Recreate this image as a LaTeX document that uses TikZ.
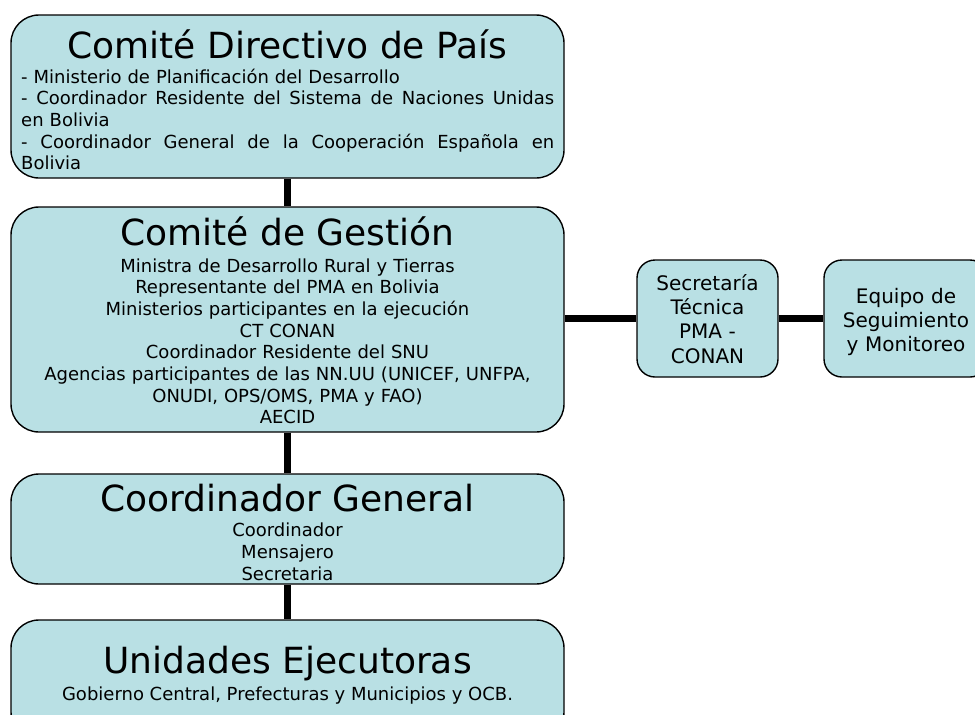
\documentclass[tikz,border=0pt]{standalone}
\usepackage{fontspec}
\setmainfont{DejaVu Sans}
\definecolor{boxfill}{RGB}{185,224,228}
\tikzset{
  bigbox/.style={draw=black, line width=1.4pt, fill=boxfill, rounded corners=28pt, inner sep=0pt, minimum width=553pt},
  smallbox/.style={draw=black, line width=1.4pt, fill=boxfill, rounded corners=18pt, inner sep=0pt},
  conn/.style={draw=black, line width=7pt},
  titletext/.style={inner sep=0pt, font=\fontsize{36}{43}\selectfont},
  bodytext/.style={inner sep=0pt, font=\fontsize{18}{21.7}\selectfont},
  sidetext/.style={inner sep=0pt, font=\fontsize{20}{24.4}\selectfont, align=center, text width=150pt},
}
\begin{document}
\begin{tikzpicture}[x=1pt,y=-1pt]
\useasboundingbox (0,0) rectangle (975,715);
% boxes
\node[bigbox, minimum height=163pt] (cdp) at (287.5,96.5) {};
\node[bigbox, minimum height=225pt] (cg) at (287.5,319.5) {};
\node[bigbox, minimum height=110pt] (coord) at (287.5,529) {};
\node[bigbox, minimum height=120pt] (ue) at (287.5,680) {};
\node[smallbox, minimum width=141pt, minimum height=117pt] (sec) at (707.5,318.5) {};
\node[smallbox, minimum width=164pt, minimum height=117pt] (eq) at (906,318.5) {};
% connectors
\draw[conn] (cdp.south) -- (cg.north);
\draw[conn] (cg.south) -- (coord.north);
\draw[conn] (coord.south) -- (ue.north);
\draw[conn] (cg.east |- sec.west) -- (sec.west);
\draw[conn] (sec.east) -- (eq.west);
% texts
\node[titletext, anchor=base] (cdpT) at (287.5,58) {Comité Directivo de País};
\node[bodytext, anchor=base west, text width=533pt, align=left] (cdpB) at (21,83) {%
- Ministerio de Planificación del Desarrollo\\
\makebox[533pt][l]{-\hfill Coordinador\hfill Residente\hfill del\hfill Sistema\hfill de\hfill Naciones\hfill Unidas}\\
en Bolivia\\
\makebox[533pt][l]{-\hfill Coordinador\hfill General\hfill de\hfill la\hfill Cooperación\hfill Española\hfill en}\\
Bolivia};
\node[titletext, anchor=base] (cgT) at (287.5,245) {Comité de Gestión};
\node[bodytext, anchor=base, text width=545pt, align=center] (cgB) at (287.5,272) {%
Ministra de Desarrollo Rural y Tierras\\
Representante del PMA en Bolivia\\
Ministerios participantes en la ejecución\\
CT CONAN\\
Coordinador Residente del SNU\\
Agencias participantes de las NN.UU (UNICEF, UNFPA,\\
ONUDI, OPS/OMS, PMA y FAO)\\
AECID};
\node[titletext, anchor=base] (coordT) at (287.5,511) {Coordinador General};
\node[bodytext, anchor=base, text width=545pt, align=center, font=\fontsize{18}{22}\selectfont] (coordB) at (287.5,536) {%
Coordinador\\
Mensajero\\
Secretaria};
\node[titletext, anchor=base] (ueT) at (287.5,673) {Unidades Ejecutoras};
\node[bodytext, anchor=base] (ueB) at (287.5,700) {Gobierno Central, Prefecturas y Municipios y OCB.};
\node[sidetext, anchor=base] (secT) at (707.5,290) {Secretaría\\ Técnica\\ PMA -\\ CONAN};
\node[sidetext, anchor=base] (eqT) at (906,303) {Equipo de\\ Seguimiento\\ y Monitoreo};
\end{tikzpicture}
\end{document}
